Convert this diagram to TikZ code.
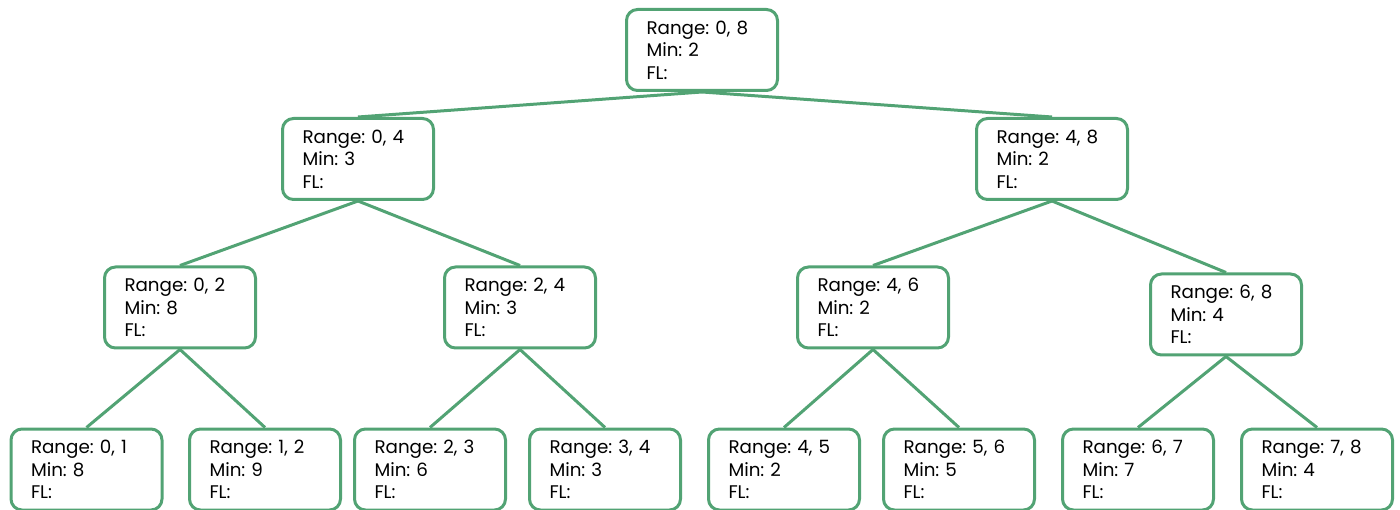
\documentclass[tikz,border=0pt]{standalone}
\usepackage{fontspec}
\setmainfont{Poppins}
\definecolor{treegreen}{RGB}{82,163,116}
\begin{document}
\begin{tikzpicture}[x=1pt,y=-1pt,
  tnode/.style={draw=treegreen, line width=3pt, rounded corners=11pt, fill=white,
    minimum width=151pt, minimum height=81pt, text width=111pt, align=left,
    inner sep=0pt, font=\fontsize{18.3}{22.5}\selectfont\frenchspacing, text=black},
  tedge/.style={draw=treegreen, line width=3pt}]
\useasboundingbox (0,0) rectangle (1400,510);
\node[tnode] (r) at (702,50) {Range: 0, 8\\Min: 2\\FL:};
\node[tnode] (a) at (358,159) {Range: 0, 4\\Min: 3\\FL:};
\node[tnode] (b) at (1052,159) {Range: 4, 8\\Min: 2\\FL:};
\node[tnode] (aa) at (180,307.5) {Range: 0, 2\\Min: 8\\FL:};
\node[tnode] (ab) at (520,307.5) {Range: 2, 4\\Min: 3\\FL:};
\node[tnode] (ba) at (873,307.5) {Range: 4, 6\\Min: 2\\FL:};
\node[tnode] (bb) at (1226,314.5) {Range: 6, 8\\Min: 4\\FL:};
\node[tnode] (l0) at (86.5,469.5) {Range: 0, 1\\Min: 8\\FL:};
\node[tnode] (l1) at (265,469.5) {Range: 1, 2\\Min: 9\\FL:};
\node[tnode] (l2) at (430,469.5) {Range: 2, 3\\Min: 6\\FL:};
\node[tnode] (l3) at (605,469.5) {Range: 3, 4\\Min: 3\\FL:};
\node[tnode] (l4) at (784,469.5) {Range: 4, 5\\Min: 2\\FL:};
\node[tnode] (l5) at (959,469.5) {Range: 5, 6\\Min: 5\\FL:};
\node[tnode] (l6) at (1138,469.5) {Range: 6, 7\\Min: 7\\FL:};
\node[tnode] (l7) at (1317,469.5) {Range: 7, 8\\Min: 4\\FL:};
\foreach \p/\c in {r/a, r/b, a/aa, a/ab, b/ba, b/bb, aa/l0, aa/l1, ab/l2, ab/l3, ba/l4, ba/l5, bb/l6, bb/l7}
  \draw[tedge] (\p.south) -- (\c.north);
\end{tikzpicture}
\end{document}
